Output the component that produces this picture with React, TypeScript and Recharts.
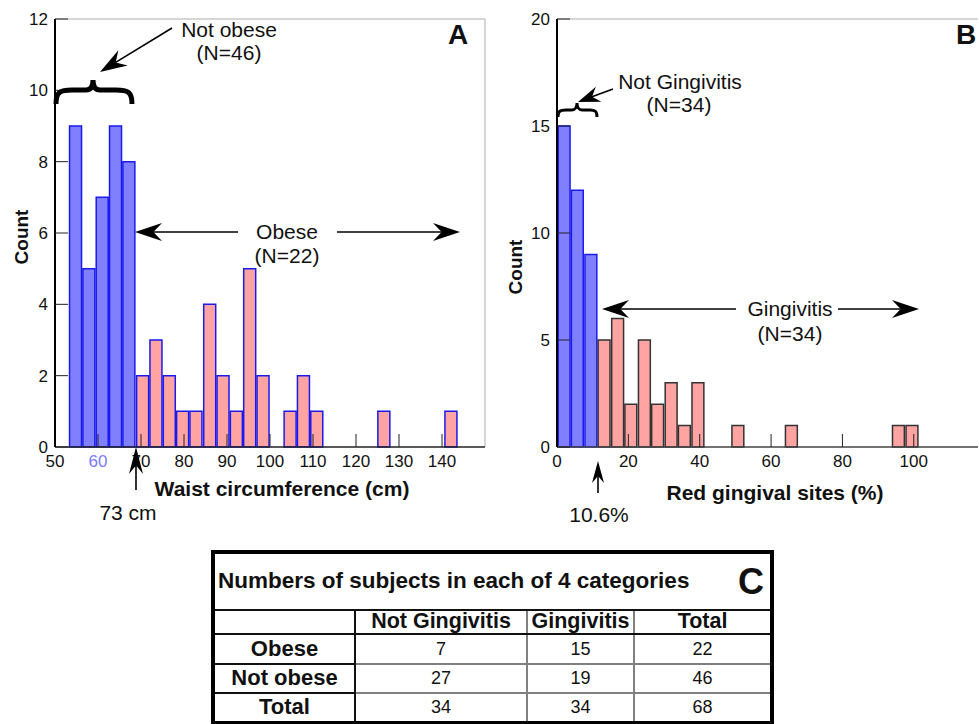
import { BarChart, Bar, XAxis, YAxis, Cell, ReferenceLine } from 'recharts'

// panel A: waist circumference histogram (bin centres, cm)
const waistCenters = [54.7, 57.8, 60.9, 64.0, 67.1, 70.3, 73.4, 76.5, 79.6, 82.7, 85.9, 89.0, 92.1, 95.2, 98.3, 101.5, 104.6, 107.7, 110.8, 113.9, 117.1, 120.2, 123.3, 126.4, 129.5, 132.7, 135.8, 138.9, 142.0]
const waistCounts = [9, 5, 7, 9, 8, 2, 3, 2, 1, 1, 4, 2, 1, 5, 2, 0, 1, 2, 1, 0, 0, 0, 0, 1, 0, 0, 0, 0, 1]
const waistTicks = [50, 60, 70, 80, 90, 100, 110, 120, 130, 140]
const countTicksA = [0, 2, 4, 6, 8, 10, 12]
const notObeseBins = 5

// panel B: red gingival sites histogram (bin centres, %)
const gingivalCenters = [1.9, 5.6, 9.4, 13.1, 16.9, 20.6, 24.4, 28.1, 31.9, 35.6, 39.4, 43.1, 46.9, 50.6, 54.4, 58.1, 61.9, 65.6, 69.4, 73.1, 76.9, 80.6, 84.4, 88.1, 91.9, 95.6, 99.4]
const gingivalCounts = [15, 12, 9, 5, 6, 2, 5, 2, 3, 1, 3, 0, 0, 1, 0, 0, 0, 1, 0, 0, 0, 0, 0, 0, 0, 1, 1]
const gingivalTicks = [0, 20, 40, 60, 80, 100]
const countTicksB = [0, 5, 10, 15, 20]
const notGingivitisBins = 3

// panel C: table
const tableCols = ['Not Gingivitis', 'Gingivitis', 'Total']
const tableRowLabels = ['Obese', 'Not obese', 'Total']
const obeseRow = [7, 15, 22]
const notObeseRow = [27, 19, 46]
const totalRow = [34, 34, 68]

const FONT = '"Liberation Sans", Arial, Helvetica, sans-serif'
const BLUE_FILL = '#8080ff'
const BLUE_EDGE = '#1a1aee'
const PINK_FILL = '#ffa3a3'

const waistData = waistCenters.map((x, i) => ({ x, count: waistCounts[i] }))
const gingivalData = gingivalCenters.map((x, i) => ({ x, count: gingivalCounts[i] }))

const XTick = ({ x, y, payload, highlight }: any) => (
  <text x={x} y={y} dy="0.71em" textAnchor="middle" fontSize={17} fontFamily={FONT}
    fill={payload.value === highlight ? '#7b7bff' : '#111'}>
    {payload.value}
  </text>
)

const YTick = ({ x, y, payload }: any) => (
  <text x={x} y={y} dy="0.36em" textAnchor="end" fontSize={17} fontFamily={FONT} fill="#111">
    {payload.value}
  </text>
)

function Arrow({ x1, y1, x2, y2, len = 27, half = 9 }: any) {
  const d = Math.hypot(x2 - x1, y2 - y1)
  const ux = (x2 - x1) / d, uy = (y2 - y1) / d
  const px = -uy, py = ux
  const bx = x2 - ux * len, by = y2 - uy * len
  const nx = x2 - ux * len * 0.68, ny = y2 - uy * len * 0.68
  return (
    <g>
      <line x1={x1} y1={y1} x2={nx} y2={ny} stroke="#000" strokeWidth={1.6} />
      <path d={`M${x2},${y2} L${bx + px * half},${by + py * half} L${nx},${ny} L${bx - px * half},${by - py * half} Z`} fill="#000" />
    </g>
  )
}

const T = ({ x, y, size = 21, bold = false, children, anchor = 'middle' }: any) => (
  <text x={x} y={y} fontSize={size} fontWeight={bold ? 'bold' : 'normal'} fontFamily={FONT}
    textAnchor={anchor} fill="#111">{children}</text>
)

function Overlay() {
  return (
    <svg width={979} height={724} style={{ position: 'absolute', left: 0, top: 0, pointerEvents: 'none' }}>
      {/* panel A */}
      <T x={458} y={44} size={28} bold>A</T>
      <text x={21} y={237} transform="rotate(-90 21 237)" textAnchor="middle" dominantBaseline="central"
        fontSize={19} fontWeight="bold" fontFamily={FONT} fill="#111">Count</text>
      <T x={282} y={496} bold>Waist circumference (cm)</T>
      <T x={229} y={37}>Not obese</T>
      <T x={229} y={60}>(N=46)</T>
      <Arrow x1={172} y1={28} x2={100} y2={72} />
      <path d="M56,104 C56,92 60,90 72,90 L86,90 C91,90 93,86 93,80 C93,86 95,90 100,90 L116,90 C128,90 132,92 132,104"
        fill="none" stroke="#000" strokeWidth={5} />
      <T x={287} y={239}>Obese</T>
      <T x={287} y={263}>(N=22)</T>
      <Arrow x1={238} y1={232} x2={135} y2={232} />
      <Arrow x1={337} y1={232} x2={460} y2={232} />
      <Arrow x1={136} y1={490} x2={136} y2={447} len={27} half={7} />
      <T x={128} y={520}>73 cm</T>

      {/* panel B */}
      <T x={966} y={44} size={28} bold>B</T>
      <text x={515} y={267} transform="rotate(-90 515 267)" textAnchor="middle" dominantBaseline="central"
        fontSize={19} fontWeight="bold" fontFamily={FONT} fill="#111">Count</text>
      <T x={775} y={500} bold>Red gingival sites (%)</T>
      <T x={680} y={89}>Not Gingivitis</T>
      <T x={679} y={112}>(N=34)</T>
      <Arrow x1={613} y1={89} x2={578} y2={102} len={22} half={8} />
      <path d="M558,117 C558,111 560,110 566,110 L572,110 C575,110 577,107 577,103 C577,107 579,110 582,110 L590,110 C595,110 597,111 597,117"
        fill="none" stroke="#000" strokeWidth={3} />
      <T x={790} y={316}>Gingivitis</T>
      <T x={790} y={341}>(N=34)</T>
      <Arrow x1={736} y1={309} x2={602} y2={309} />
      <Arrow x1={838} y1={309} x2={919} y2={309} />
      <Arrow x1={598} y1={493} x2={598} y2={461} len={22} half={6} />
      <T x={599} y={522}>10.6%</T>
    </svg>
  )
}

const cellBase = { padding: 0, lineHeight: '1', textAlign: 'center' as const }
const darkLine = '2px solid #111'
const greyLine = '2px solid #808080'

function Table() {
  const rows = [obeseRow, notObeseRow, totalRow]
  const heights = [30, 29, 30]
  return (
    <table style={{
      position: 'absolute', left: 211, top: 550, width: 559, borderCollapse: 'collapse',
      tableLayout: 'fixed', border: '4px solid #000', fontFamily: FONT, color: '#111', background: '#fff',
    }}>
      <colgroup>
        <col style={{ width: 142 }} />
        <col style={{ width: 172 }} />
        <col style={{ width: 107 }} />
        <col style={{ width: 138 }} />
      </colgroup>
      <tbody>
        <tr style={{ height: 58 }}>
          <td colSpan={4} style={{ ...cellBase, borderBottom: darkLine, textAlign: 'left', padding: '0 6px 0 3px' }}>
            <div style={{ display: 'flex', justifyContent: 'space-between', alignItems: 'center' }}>
              <span style={{ fontSize: 22.5, fontWeight: 'bold' }}>Numbers of subjects in each of 4 categories</span>
              <span style={{ fontSize: 36, fontWeight: 'bold' }}>C</span>
            </div>
          </td>
        </tr>
        <tr style={{ height: 23 }}>
          <td style={{ ...cellBase, borderRight: darkLine, borderBottom: darkLine }}></td>
          {tableCols.map((c, i) => (
            <td key={c} style={{ ...cellBase, fontSize: 21.5, fontWeight: 'bold', borderBottom: darkLine, borderRight: i < 2 ? greyLine : 'none' }}>{c}</td>
          ))}
        </tr>
        {rows.map((r, ri) => (
          <tr key={ri} style={{ height: heights[ri] }}>
            <td style={{ ...cellBase, fontSize: 22, fontWeight: 'bold', borderRight: darkLine, borderBottom: ri < 2 ? darkLine : 'none' }}>{tableRowLabels[ri]}</td>
            {r.map((v, ci) => (
              <td key={ci} style={{ ...cellBase, fontSize: 18, borderRight: ci < 2 ? greyLine : 'none', borderBottom: ri < 2 ? greyLine : 'none' }}>{v}</td>
            ))}
          </tr>
        ))}
      </tbody>
    </table>
  )
}

export default function App() {
  return (
    <div style={{ position: 'absolute', left: 0, top: 0, width: 979, height: 724, overflow: 'hidden', background: '#fff' }}>
      <div style={{ position: 'absolute', left: 0, top: 0 }}>
        <BarChart width={500} height={480} data={waistData} margin={{ top: 19, right: 15, bottom: 32, left: 54 }}>
          <XAxis type="number" dataKey="x" domain={[50, 150]} ticks={waistTicks} interval={0} height={1}
            tickSize={-13} tickMargin={21} tickLine={{ stroke: '#222' }} axisLine={{ stroke: '#222', strokeWidth: 1.5 }}
            tick={<XTick highlight={60} />} />
          <YAxis type="number" domain={[0, 12]} ticks={countTicksA} interval={0} width={1}
            tickSize={-13} tickMargin={20} tickLine={{ stroke: '#222' }} axisLine={{ stroke: '#000', strokeWidth: 2 }}
            tick={<YTick />} />
          <ReferenceLine y={12} stroke="#c8c8c8" strokeWidth={1.5} />
          <ReferenceLine x={150} stroke="#c8c8c8" strokeWidth={1.5} />
          <Bar dataKey="count" barSize={13.4} isAnimationActive={false} strokeWidth={1.5}>
            {waistData.map((d, i) => (
              <Cell key={i} fill={i < notObeseBins ? BLUE_FILL : PINK_FILL} stroke={BLUE_EDGE} />
            ))}
          </Bar>
        </BarChart>
      </div>
      <div style={{ position: 'absolute', left: 490, top: 0 }}>
        <BarChart width={489} height={480} data={gingivalData} margin={{ top: 19, right: 1, bottom: 32, left: 66 }}>
          <XAxis type="number" dataKey="x" domain={[0, 118]} ticks={gingivalTicks} interval={0} height={1}
            tickSize={-13} tickMargin={21} tickLine={{ stroke: '#222' }} axisLine={{ stroke: '#444', strokeWidth: 1.5 }}
            tick={<XTick />} />
          <YAxis type="number" domain={[0, 20]} ticks={countTicksB} interval={0} width={1}
            tickSize={-13} tickMargin={20} tickLine={{ stroke: '#222' }} axisLine={{ stroke: '#000', strokeWidth: 2 }}
            tick={<YTick />} />
          <ReferenceLine y={20} stroke="#c8c8c8" strokeWidth={1.5} />
          <Bar dataKey="count" barSize={13.4} isAnimationActive={false} strokeWidth={1.5}>
            {gingivalData.map((d, i) => (
              <Cell key={i} fill={i < notGingivitisBins ? BLUE_FILL : PINK_FILL} stroke={i < notGingivitisBins ? BLUE_EDGE : '#333'} />
            ))}
          </Bar>
        </BarChart>
      </div>
      <Overlay />
      <Table />
    </div>
  )
}
